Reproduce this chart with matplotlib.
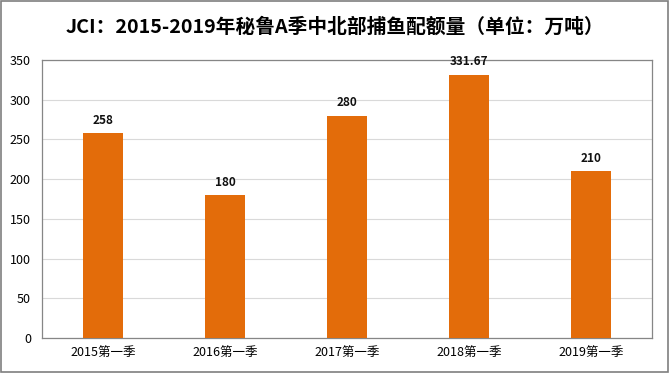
import matplotlib.pyplot as plt
from matplotlib.patches import Rectangle

plt.rcParams['font.family'] = ['Noto Sans CJK SC', 'DejaVu Sans']

categories = ["2015第一季", "2016第一季", "2017第一季", "2018第一季", "2019第一季"]
quota = [258, 180, 280, 331.67, 210]
labels = ["258", "180", "280", "331.67", "210"]

fig = plt.figure(figsize=(6.7, 3.73), dpi=100)
ax = fig.add_axes([0.0627, 0.094, 0.91, 0.745])

x = range(len(categories))
ax.bar(x, quota, width=0.33, color="#E36C0A", zorder=3)
for xi, v, lab in zip(x, quota, labels):
    ax.text(xi, v + 8, lab, ha="center", va="bottom", fontsize=8.5,
            fontweight="bold", color="#111111")

ax.set_xlim(-0.5, len(categories) - 0.5)
ax.set_ylim(0, 350)
ax.set_yticks(range(0, 351, 50))
ax.set_xticks(list(x))
ax.set_xticklabels(categories, fontsize=9)
ax.tick_params(axis="y", labelsize=9, length=0, pad=8)
ax.tick_params(axis="x", length=0, pad=6)
ax.grid(axis="y", color="#D9D9D9", linewidth=0.8, zorder=0)
for s in ax.spines.values():
    s.set_color("#868686")
    s.set_linewidth(0.9)

fig.text(0.5, 0.927, "JCI：2015-2019年秘鲁A季中北部捕鱼配额量（单位：万吨）",
         ha="center", va="center", fontsize=14.2, fontweight="bold")

# outer border of the picture
fig.patches.append(Rectangle((0.002, 0.003), 0.995, 0.993, transform=fig.transFigure,
                             fill=False, edgecolor="#7F7F7F", linewidth=1.2))

fig.savefig("out.png", dpi=100)
